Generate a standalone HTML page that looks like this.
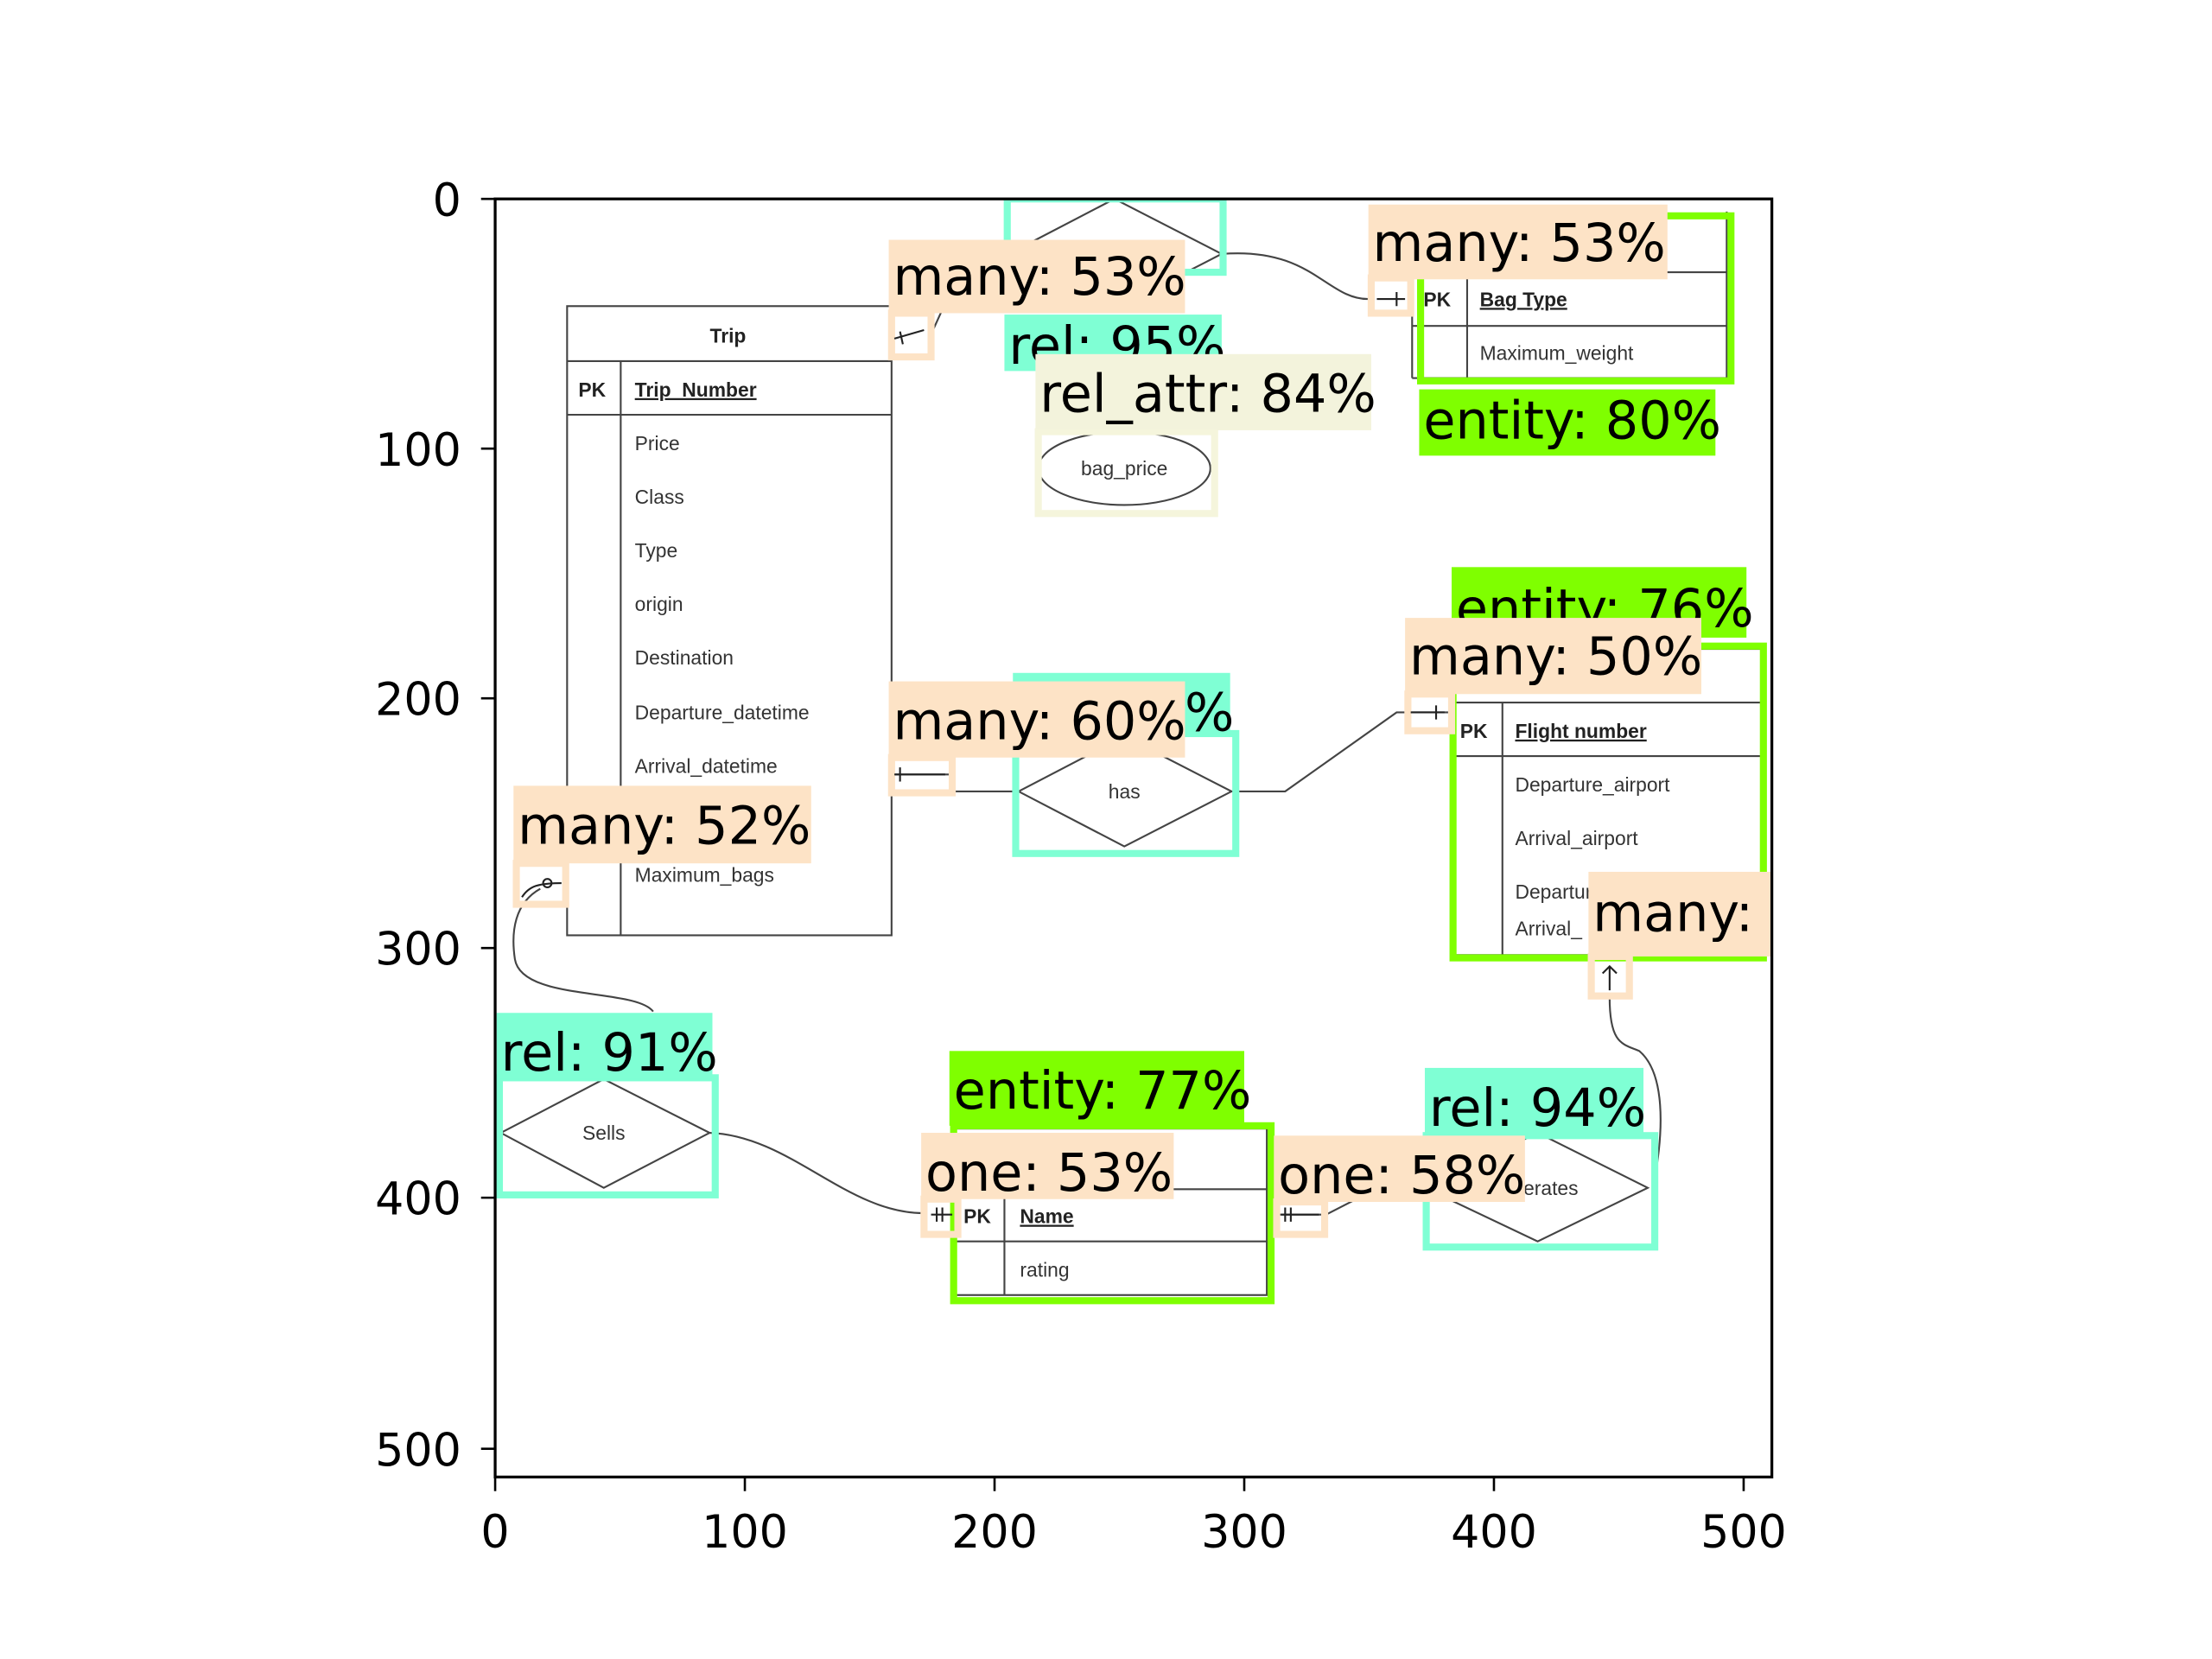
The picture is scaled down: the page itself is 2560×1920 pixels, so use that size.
<!DOCTYPE html>
<html><head><meta charset="utf-8"><style>
html,body{margin:0;padding:0;background:#fff;}
svg{display:block;}
.lb{font-family:"DejaVu Sans","Liberation Sans",sans-serif;font-size:37px;fill:#000;}
.tk{font-family:"DejaVu Sans","Liberation Sans",sans-serif;font-size:32px;fill:#000;}
.t{font-family:"Liberation Sans",sans-serif;font-size:14px;fill:#333;}
.tb{font-family:"Liberation Sans",sans-serif;font-size:14px;fill:#222;font-weight:bold;}
</style></head><body>
<svg width="2560" height="1920" viewBox="0 0 1568 1176" xmlns="http://www.w3.org/2000/svg">
<rect width="1568" height="1176" fill="#fff"/>
<g fill="none" stroke="#444" stroke-width="1.3">
<rect x="402" y="217" width="230" height="446"/>
<line x1="402" y1="256" x2="632" y2="256"/>
<line x1="402" y1="294" x2="632" y2="294"/>
<line x1="440" y1="256" x2="440" y2="663"/>
<line x1="1001" y1="193" x2="1224" y2="193"/>
<line x1="1001" y1="231" x2="1224" y2="231"/>
<line x1="1001" y1="268" x2="1224" y2="268"/>
<line x1="1001" y1="193" x2="1001" y2="268"/>
<line x1="1224" y1="150" x2="1224" y2="268"/>
<line x1="1040" y1="193" x2="1040" y2="268"/>
<polyline points="715,180 790,141 866,180 790,219"/>
<path d="M866,180 C930,175 940,212 970,212"/>
<path d="M660,237 L670,215"/>
<ellipse cx="797" cy="332" rx="61" ry="26"/>
<rect x="1030" y="460" width="220" height="217"/>
<line x1="1030" y1="498" x2="1250" y2="498"/>
<line x1="1030" y1="536" x2="1250" y2="536"/>
<line x1="1065" y1="498" x2="1065" y2="677"/>
<polygon points="722,561 797,522 873,561 797,600"/>
<path d="M632,549 L676,549 L676,561 L722,561"/>
<path d="M873,561 L911,561 L990,505 L1030,505"/>
<path d="M1141,707 C1141,740 1150,740 1162,745 C1180,760 1180,800 1172,840"/>
<polygon points="355,803 428,765 503,803 428,842"/>
<path d="M383,630 C365,640 362,660 365,680 C370,710 450,700 463,717"/>
<path d="M503,803 C560,805 600,860 655,860"/>
<rect x="675" y="800" width="223" height="118"/>
<line x1="675" y1="843" x2="898" y2="843"/>
<line x1="675" y1="880" x2="898" y2="880"/>
<line x1="712" y1="843" x2="712" y2="918"/>
<polygon points="1010,842 1090,803 1168,842 1090,880"/>
<path d="M898,861 L940,861 L1010,825"/>
</g>
<text class="tb" x="516" y="243" text-anchor="middle">Trip</text>
<text class="tb" x="410" y="281">PK</text>
<text class="tb" x="450" y="281" text-decoration="underline">Trip_Number</text>
<text class="t" x="450" y="319">Price</text>
<text class="t" x="450" y="357">Class</text>
<text class="t" x="450" y="395">Type</text>
<text class="t" x="450" y="433">origin</text>
<text class="t" x="450" y="471">Destination</text>
<text class="t" x="450" y="510">Departure_datetime</text>
<text class="t" x="450" y="548">Arrival_datetime</text>
<text class="t" x="450" y="625">Maximum_bags</text>
<text class="tb" x="1009" y="217">PK</text>
<text class="tb" x="1049" y="217" text-decoration="underline">Bag Type</text>
<text class="t" x="1049" y="255">Maximum_weight</text>
<text class="t" x="797" y="337" text-anchor="middle">bag_price</text>
<text class="tb" x="1035" y="523">PK</text>
<text class="tb" x="1074" y="523" text-decoration="underline">Flight number</text>
<text class="t" x="1074" y="561">Departure_airport</text>
<text class="t" x="1074" y="599">Arrival_airport</text>
<text class="t" x="1074" y="637">Departure</text>
<text class="t" x="1074" y="663">Arrival_</text>
<text class="t" x="797" y="566" text-anchor="middle">has</text>
<text class="t" x="428" y="808" text-anchor="middle">Sells</text>
<text class="tb" x="683" y="867">PK</text>
<text class="tb" x="723" y="867" text-decoration="underline">Name</text>
<text class="t" x="723" y="905">rating</text>
<text class="t" x="1090" y="847" text-anchor="middle">Operates</text>

<g fill="none" stroke-width="5">
<rect x="714" y="141" width="153" height="52" stroke="#7fffd4"/>
<rect x="1007" y="153" width="220" height="117" stroke="#7fff00"/>
<rect x="736" y="306" width="125" height="58" stroke="#f5f5dc"/>
<rect x="1030" y="458" width="220" height="221" stroke="#7fff00"/>
<rect x="720" y="520" width="156" height="85" stroke="#7fffd4"/>
<rect x="354" y="764" width="153" height="83" stroke="#7fffd4"/>
<rect x="676" y="798" width="225" height="124" stroke="#7fff00"/>
<rect x="1011" y="805" width="162" height="79" stroke="#7fffd4"/>
<rect x="632" y="222" width="28" height="31" stroke="#fde3c6"/>
<rect x="972" y="197" width="28" height="25" stroke="#fde3c6"/>
<rect x="998" y="492" width="31" height="26" stroke="#fde3c6"/>
<rect x="632" y="537" width="43" height="25" stroke="#fde3c6"/>
<rect x="366" y="612" width="35" height="29" stroke="#fde3c6"/>
<rect x="1128" y="678" width="27" height="28" stroke="#fde3c6"/>
<rect x="655" y="850" width="24" height="25" stroke="#fde3c6"/>
<rect x="905" y="852" width="34" height="23" stroke="#fde3c6"/>
</g>
<g stroke="#222" stroke-width="1.3" fill="none">
<path d="M634,240 L655,234 M638,235 L640,244"/>
<path d="M976,212 L996,212 M990,207 L990,217"/>
<path d="M1000,505 L1024,505 M1018,500 L1018,510"/>
<path d="M634,549 L670,549 M638,544 L638,554"/>
<path d="M370,636 C375,628 382,626 398,626"/><circle cx="388" cy="626" r="3"/>
<path d="M1141,685 L1141,702 M1136,690 L1141,685 L1146,690"/>
<path d="M660,861 L675,861 M664,856 L664,866 M668,856 L668,866"/>
<path d="M908,861 L935,861 M911,856 L911,866 M915,856 L915,866"/>
</g>

<rect x="712" y="223" width="154" height="40" fill="#7fffd4"/><text class="lb" x="715" y="258">rel: 95%</text>
<rect x="630" y="170" width="210" height="52" fill="#fde3c6"/><text class="lb" x="633" y="209">many: 53%</text>
<rect x="970" y="145" width="212" height="53" fill="#fde3c6"/><text class="lb" x="973" y="185">many: 53%</text>
<rect x="734" y="251" width="238" height="54" fill="#f3f3dc"/><text class="lb" x="737" y="292">rel_attr: 84%</text>
<rect x="1006" y="276" width="210" height="47" fill="#7fff00"/><text class="lb" x="1009" y="311">entity: 80%</text>
<rect x="1029" y="402" width="209" height="50" fill="#7fff00"/><text class="lb" x="1032" y="444">entity: 76%</text>
<rect x="996" y="438" width="210" height="54" fill="#fde3c6"/><text class="lb" x="999" y="478">many: 50%</text>
<rect x="718" y="477" width="154" height="45" fill="#7fffd4"/><text class="lb" x="721" y="518">rel: 94%</text>
<rect x="630" y="483" width="210" height="54" fill="#fde3c6"/><text class="lb" x="633" y="524">many: 60%</text>
<rect x="364" y="557" width="211" height="55" fill="#fde3c6"/><text class="lb" x="367" y="598">many: 52%</text>
<rect x="1126" y="618" width="130" height="60" fill="#fde3c6"/><text class="lb" x="1129" y="660">many: 5</text>
<rect x="352" y="718" width="153" height="47" fill="#7fffd4"/><text class="lb" x="355" y="759">rel: 91%</text>
<rect x="673" y="745" width="209" height="53" fill="#7fff00"/><text class="lb" x="676" y="786">entity: 77%</text>
<rect x="1010" y="757" width="155" height="49" fill="#7fffd4"/><text class="lb" x="1013" y="798">rel: 94%</text>
<rect x="653" y="803" width="179" height="47" fill="#fde3c6"/><text class="lb" x="656" y="844">one: 53%</text>
<rect x="903" y="805" width="178" height="47" fill="#fde3c6"/><text class="lb" x="906" y="846">one: 58%</text>

<path d="M0,0 H1568 V1176 H0 Z M351,141 V1047 H1256 V141 Z" fill="#fff" fill-rule="evenodd"/>
<rect x="351" y="141" width="905" height="906" fill="none" stroke="#000" stroke-width="2"/>
<g stroke="#000" stroke-width="1.6">
<line x1="341" y1="141" x2="351" y2="141"/><line x1="341" y1="318" x2="351" y2="318"/>
<line x1="341" y1="495" x2="351" y2="495"/><line x1="341" y1="672" x2="351" y2="672"/>
<line x1="341" y1="849" x2="351" y2="849"/><line x1="341" y1="1027" x2="351" y2="1027"/>
<line x1="351" y1="1047" x2="351" y2="1057"/><line x1="528" y1="1047" x2="528" y2="1057"/>
<line x1="705" y1="1047" x2="705" y2="1057"/><line x1="882" y1="1047" x2="882" y2="1057"/>
<line x1="1059" y1="1047" x2="1059" y2="1057"/><line x1="1236" y1="1047" x2="1236" y2="1057"/>
</g>
<g class="tk" text-anchor="end">
<text x="327" y="153">0</text><text x="327" y="330">100</text><text x="327" y="507">200</text>
<text x="327" y="684">300</text><text x="327" y="861">400</text><text x="327" y="1039">500</text>
</g>
<g class="tk" text-anchor="middle">
<text x="351" y="1097">0</text><text x="528" y="1097">100</text><text x="705" y="1097">200</text>
<text x="882" y="1097">300</text><text x="1059" y="1097">400</text><text x="1236" y="1097">500</text>
</g>
</svg>
</body></html>
